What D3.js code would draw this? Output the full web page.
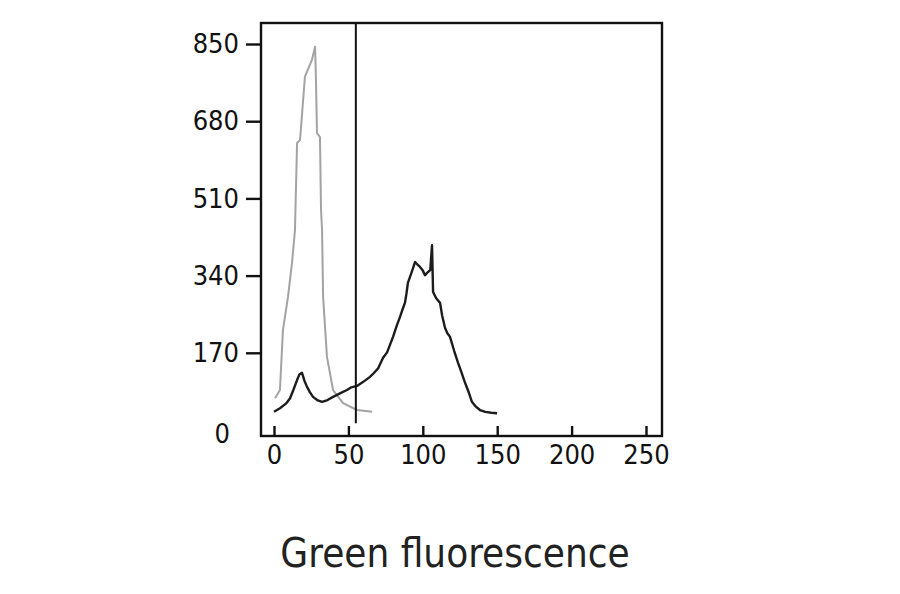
<!DOCTYPE html>
<html>
<head>
<meta charset="utf-8">
<script src="https://cdn.jsdelivr.net/npm/d3@7"></script>
<style>
body{margin:0;background:#fff;}
svg text{font-family:"Liberation Sans Narrow","DejaVu Sans Condensed",sans-serif;}
</style>
</head>
<body>
<svg width="900" height="594"></svg>
<script>
// histogram of green fluorescence, control (gray) vs sample (black)
var xTicks=[0,50,100,150,200,250];
var yTicks=[0,170,340,510,680,850];
var gateX=55;

var controlX=[0.7,4,6,9.4,12.1,14.1,15.5,17.5,20.8,25.5,27.6,28.2,28.9,30.9,31.6,32.3,33,35.6,39.7,46.4,55.8,65.9];
var controlY=[70,88,220,293,368,440,632,639,778,815,844,771,654,645,485,440,293,161,88,59,44,40];

var sampleX=[0,4,8,10.8,13,15.5,17,18.8,20.5,22.2,24,26.2,29,32.3,36,39.7,44,49,52,55.8,60,64.5,67,70,73.3,76,78,80,82.5,84.7,86,88,89,90,91.4,93,94.8,96.5,98.1,100,101.5,103.5,105,106.2,106.9,109,111.6,113,114.9,116.5,118.3,121,123.7,126,128.4,131,133,135.5,138.4,142,146,149.9];
var sampleY=[40,48,58,70,88,110,122,126,108,95,84,73,66,62,66,73,80,88,94,97,106,117,125,136,159,171,188,205,230,249,262,280,300,324,337,352,370,364,359,351,341,348,352,407,304,290,280,252,225,213,205,175,148,127,104,82,62,52,44,40,38,37];

var xScale=d3.scaleLinear().domain([0,250]).range([274,646]);
var yScale=d3.scaleLinear().domain([0,850]).range([430,44]);

var svg=d3.select('svg');

var line=d3.line()
	.x(d=>xScale(d[0]))
	.y(d=>yScale(d[1]));

svg.append('path')
	.datum(d3.zip(controlX,controlY))
	.attr('d',line)
	.attr('fill','none')
	.attr('stroke','#a3a3a3')
	.attr('stroke-width',2)
	.attr('stroke-linejoin','round');

svg.append('path')
	.datum(d3.zip(sampleX,sampleY))
	.attr('d',line)
	.attr('fill','none')
	.attr('stroke','#1c1c1c')
	.attr('stroke-width',2.4)
	.attr('stroke-linejoin','round');

// gate marker
svg.append('line')
	.attr('x1',xScale(gateX)).attr('x2',xScale(gateX))
	.attr('y1',23).attr('y2',yScale(15))
	.attr('stroke','#111')
	.attr('stroke-width',2);

// frame
svg.append('rect')
	.attr('x',261).attr('y',23)
	.attr('width',401).attr('height',413)
	.attr('fill','none')
	.attr('stroke','#111')
	.attr('stroke-width',2.4);

var xAxis=d3.axisBottom(xScale)
	.tickValues(xTicks)
	.tickSize(-10)
	.tickPadding(9)
	.tickSizeOuter(0);

var yAxis=d3.axisLeft(yScale)
	.tickValues(yTicks)
	.tickSize(15)
	.tickPadding(7)
	.tickSizeOuter(0);

var gx=svg.append('g')
	.attr('transform','translate(0,436)')
	.call(xAxis);
var gy=svg.append('g')
	.attr('transform','translate(261,0)')
	.call(yAxis);

[gx,gy].forEach(function(g){
	g.select('.domain').remove();
	g.selectAll('line').attr('stroke','#111').attr('stroke-width',2.4);
	g.selectAll('text').attr('fill','#111').style('font-size','27px');
});
// no tick mark at zero on y
gy.selectAll('.tick').filter(d=>d===0).select('line').remove();
gy.selectAll('.tick').filter(d=>d===0).select('text').attr('dy','0.45em').attr('x',-31);

svg.append('text')
	.attr('x',455)
	.attr('y',567)
	.attr('text-anchor','middle')
	.attr('fill','#222')
	.style('font-size','40px')
	.text('Green fluorescence');
</script>
</body>
</html>
